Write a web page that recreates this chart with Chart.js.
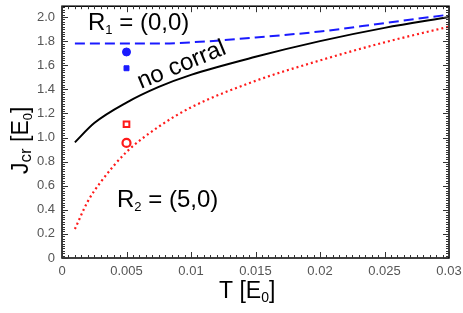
<!DOCTYPE html>
<html>
<head>
<meta charset="utf-8">
<script src="https://cdn.jsdelivr.net/npm/chart.js@4/dist/chart.umd.min.js"></script>
<style>
html, body { margin: 0; padding: 0; background: #fff; }
#wrap { width: 463px; height: 313px; }
</style>
</head>
<body>
<div id="wrap"><canvas id="c" width="463" height="313"></canvas></div>
<script>
// data
var tNoCorral = [0.001, 0.0025, 0.005, 0.0075, 0.01, 0.015, 0.02, 0.025, 0.03];
var jNoCorral = [0.96, 1.12, 1.29, 1.42, 1.52, 1.67, 1.80, 1.91, 2.0];
var tR1 = [0.001, 0.005, 0.0075, 0.01, 0.015, 0.02, 0.025, 0.03];
var jR1 = [1.78, 1.78, 1.78, 1.79, 1.83, 1.88, 1.95, 2.02];
var tR2 = [0.001, 0.002, 0.003, 0.005, 0.0075, 0.01, 0.015, 0.02, 0.025, 0.03];
var jR2 = [0.24, 0.47, 0.63, 0.88, 1.09, 1.25, 1.47, 1.64, 1.79, 1.92];
var tMarks = [0.005];
var jBlueCircle = [1.71];
var jBlueSquare = [1.575];
var jRedSquare = [1.11];
var jRedCircle = [0.955];
var xTicks = [0, 0.005, 0.01, 0.015, 0.02, 0.025, 0.03];
var xTickLabels = ["0", "0.005", "0.01", "0.015", "0.02", "0.025", "0.03"];
var yTicks = [0, 0.2, 0.4, 0.6, 0.8, 1.0, 1.2, 1.4, 1.6, 1.8, 2.0];
var yTickLabels = ["0", "0.2", "0.4", "0.6", "0.8", "1.0", "1.2", "1.4", "1.6", "1.8", "2.0"];

var FONT = "'Liberation Sans', Arial, sans-serif";

function pts(xs, ys) {
    var out = [];
    for (var i = 0; i < xs.length; i++) out.push({x: xs[i], y: ys[i]});
    return out;
}

function drawSub(ctx, x, y, parts) {
    // parts: [text, size, dy]
    for (var i = 0; i < parts.length; i++) {
        ctx.font = parts[i][1] + "px " + FONT;
        ctx.fillText(parts[i][0], x, y + parts[i][2]);
        x += ctx.measureText(parts[i][0]).width;
    }
    return x;
}

var framePlugin = {
    id: "frame",
    afterDatasetsDraw: function(chart) {
        var ctx = chart.ctx, a = chart.chartArea;
        var xs = chart.scales.x, ys = chart.scales.y;
        ctx.save();
        ctx.strokeStyle = "#000";
        ctx.lineWidth = 1.5;
        ctx.strokeRect(a.left, a.top, a.right - a.left, a.bottom - a.top);
        ctx.lineWidth = 1;
        ctx.strokeStyle = "#333";
        ctx.beginPath();
        for (var i = 0; i <= 60; i++) {
            var v = i * 0.0005;
            var px = Math.round(xs.getPixelForValue(v)) + 0.5;
            var len = (i % 10 == 0) ? 6 : 3;
            ctx.moveTo(px, a.bottom); ctx.lineTo(px, a.bottom - len);
            ctx.moveTo(px, a.top); ctx.lineTo(px, a.top + len);
        }
        for (var k = 0; k <= 104; k++) {
            var w = k * 0.02;
            var py = Math.round(ys.getPixelForValue(w)) + 0.5;
            var l2 = (k % 10 == 0) ? 6 : 3;
            ctx.moveTo(a.left, py); ctx.lineTo(a.left + l2, py);
            ctx.moveTo(a.right, py); ctx.lineTo(a.right - l2, py);
        }
        ctx.stroke();

        // annotations
        ctx.fillStyle = "#000";
        ctx.textBaseline = "alphabetic";
        ctx.textAlign = "left";
        drawSub(ctx, 88, 30, [["R", 24, 0], ["1", 13, 4], [" = (0,0)", 24, 0]]);
        drawSub(ctx, 117, 207, [["R", 24, 0], ["2", 13, 4], [" = (5,0)", 24, 0]]);

        ctx.save();
        ctx.translate(141, 89);
        ctx.rotate(-0.39);
        ctx.font = "24px " + FONT;
        ctx.fillText("no corral", 0, 0);
        ctx.restore();

        // axis titles
        drawSub(ctx, 219, 298, [["T [E", 23, 0], ["0", 14, 4], ["]", 23, 0]]);
        ctx.save();
        ctx.translate(28, 174);
        ctx.rotate(-Math.PI / 2);
        drawSub(ctx, 0, 0, [["J", 23, 0], ["cr", 17, 3], [" [E", 23, 0], ["0", 13, 4], ["]", 23, 0]]);
        ctx.restore();
        ctx.restore();
    }
};

new Chart(document.getElementById("c"), {
    type: "line",
    data: {
        datasets: [
            {data: pts(tNoCorral, jNoCorral), borderColor: "#000", borderWidth: 2, pointRadius: 0, cubicInterpolationMode: "monotone"},
            {data: pts(tR1, jR1), borderColor: "#1a1aff", borderWidth: 2, borderDash: [10, 5], pointRadius: 0, cubicInterpolationMode: "monotone"},
            {data: pts(tR2, jR2), borderColor: "#ff1a1a", borderWidth: 2.2, borderDash: [2, 3], pointRadius: 0, cubicInterpolationMode: "monotone"},
            {data: pts(tMarks, jBlueCircle), showLine: false, pointStyle: "circle", pointRadius: 4, backgroundColor: "#1a1aff", borderColor: "#1a1aff"},
            {data: pts(tMarks, jBlueSquare), showLine: false, pointStyle: "rect", pointRadius: 3.5, backgroundColor: "#1a1aff", borderColor: "#1a1aff"},
            {data: pts(tMarks, jRedSquare), showLine: false, pointStyle: "rect", pointRadius: 4, borderWidth: 2, backgroundColor: "rgba(0,0,0,0)", borderColor: "#ff1a1a"},
            {data: pts(tMarks, jRedCircle), showLine: false, pointStyle: "circle", pointRadius: 4, borderWidth: 2.2, backgroundColor: "rgba(0,0,0,0)", borderColor: "#ff1a1a"}
        ]
    },
    options: {
        responsive: false,
        animation: false,
        layout: {padding: {top: 2, right: 14, left: 0, bottom: 0}},
        plugins: {legend: {display: false}, tooltip: {enabled: false}},
        scales: {
            x: {
                type: "linear", min: 0, max: 0.03,
                grid: {display: false, drawTicks: false},
                border: {display: false},
                afterBuildTicks: function(s) { s.ticks = xTicks.map(function(v) { return {value: v}; }); },
                afterFit: function(s) { s.height = 55; s.paddingLeft = 0; s.paddingRight = 0; },
                ticks: {
                    color: "#555", padding: 6,
                    font: {size: 13, family: FONT},
                    maxRotation: 0,
                    callback: function(v) { var i = xTicks.indexOf(v); return i >= 0 ? xTickLabels[i] : ""; }
                }
            },
            y: {
                min: 0, max: 2.09,
                grid: {display: false, drawTicks: false},
                border: {display: false},
                afterBuildTicks: function(s) { s.ticks = yTicks.map(function(v) { return {value: v}; }); },
                afterFit: function(s) { s.width = 62; s.paddingTop = 0; s.paddingBottom = 0; },
                ticks: {
                    color: "#555", padding: 7,
                    font: {size: 13, family: FONT},
                    callback: function(v) { var i = yTicks.indexOf(v); return i >= 0 ? yTickLabels[i] : ""; }
                }
            }
        }
    },
    plugins: [framePlugin]
});
</script>
</body>
</html>
